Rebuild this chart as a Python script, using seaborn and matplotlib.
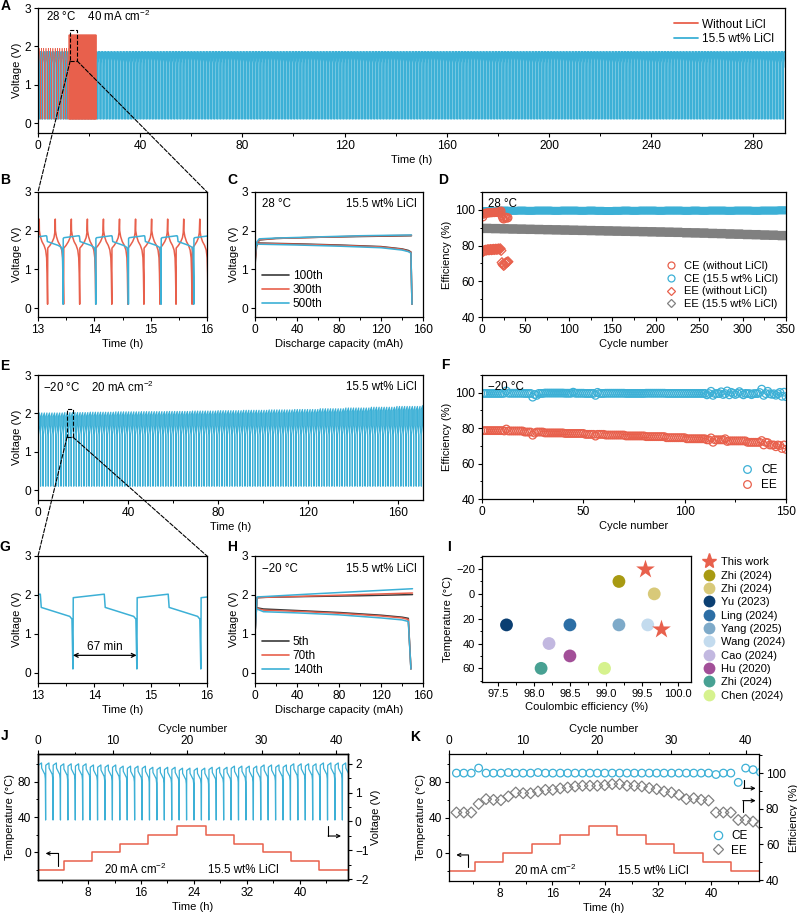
import numpy as np
import pandas as pd
import seaborn as sns
import matplotlib.pyplot as plt
from matplotlib.patches import Rectangle, ConnectionPatch
from matplotlib.lines import Line2D
from matplotlib.ticker import MultipleLocator

sns.set_theme(style="ticks")
plt.rcParams['font.family'] = ['Liberation Sans', 'DejaVu Sans']
plt.rcParams.update({
    'font.size': 8.3, 'axes.labelsize': 8, 'xtick.labelsize': 8.6, 'ytick.labelsize': 8.6,
    'legend.fontsize': 8, 'axes.linewidth': 0.9, 'axes.edgecolor': 'black',
    'xtick.color': 'black', 'ytick.color': 'black', 'axes.labelcolor': 'black',
    'text.color': 'black', 'xtick.major.size': 3, 'ytick.major.size': 3,
    'xtick.minor.size': 1.8, 'ytick.minor.size': 1.8, 'xtick.major.width': 0.8,
    'ytick.major.width': 0.8, 'xtick.minor.width': 0.7, 'ytick.minor.width': 0.7,
    'xtick.major.pad': 2, 'ytick.major.pad': 2, 'axes.labelpad': 2,
    'mathtext.fontset': 'custom', 'mathtext.rm': 'Liberation Sans',
    'mathtext.default': 'regular',
})

RED = '#e8604c'
BLUE = '#3cb0d6'
DARK = '#3a3a3a'
GRAY = '#808080'

###############################################################
# data
###############################################################
# A/B: 28 C, 40 mA cm-2 -- one cycle template (time fraction, voltage)
red_early_frac = [0, 0.01, 0.2, 0.4, 0.48, 0.5, 0.6, 0.9, 0.97, 1.0]
red_early_v = [0.1, 1.55, 1.68, 1.8, 1.95, 1.9, 1.8, 1.6, 1.5, 0.1]
red_early_period, red_early_n = 0.9, 14
red_late_frac = [0, 0.01, 0.15, 0.3, 0.4, 0.45, 0.48, 0.49, 0.55, 0.65, 0.78, 0.88, 0.94, 0.97, 1.0]
red_late_v = [0.1, 1.55, 1.62, 1.72, 1.82, 1.95, 2.3, 2.0, 1.85, 1.72, 1.62, 1.5, 1.3, 0.9, 0.1]
red_late_period, red_late_n, red_late_t0 = 0.285, 38, 12.03
blue28_frac = [0, 0.005, 0.03, 0.48, 0.5, 0.52, 0.65, 0.85, 0.95, 0.98, 0.995, 1.0]
blue28_v = [0.1, 1.8, 1.82, 1.87, 1.86, 1.72, 1.68, 1.62, 1.57, 1.45, 0.8, 0.1]
blue28_period, blue28_n, blue28_t0 = 0.58, 506, -0.475

# C: 28 C capacity curves
c_cap_chg = [0, 1.5, 4, 20, 60, 100, 149]
c_chg = {'100th': [1.1, 1.6, 1.76, 1.8, 1.83, 1.85, 1.87],
         '300th': [1.2, 1.65, 1.77, 1.8, 1.83, 1.86, 1.88],
         '500th': [1.3, 1.7, 1.79, 1.81, 1.84, 1.87, 1.89]}
c_cap_dis = [0, 5, 40, 80, 120, 140, 146, 148.5, 149.5]
c_dis = {'100th': [1.69, 1.68, 1.66, 1.63, 1.59, 1.53, 1.49, 1.45, 0.1],
         '300th': [1.68, 1.67, 1.65, 1.62, 1.58, 1.52, 1.47, 1.44, 0.1],
         '500th': [1.66, 1.65, 1.63, 1.6, 1.56, 1.5, 1.46, 1.42, 0.1]}

# D: efficiencies at 28 C
d_red_cycle = list(range(1, 31))
d_red_ce = [96.0, 97.5, 98.0, 98.2, 98.0, 98.3, 98.5, 98.2, 98.4, 98.6, 98.3, 98.5, 98.7, 98.4, 98.6,
            98.8, 98.5, 98.7, 98.9, 98.6, 99.0, 99.4, 96.5, 95.2, 94.8, 95.5, 96.0, 95.8, 95.3, 95.6]
d_red_ee = [76.5, 77.0, 77.3, 77.5, 77.4, 77.6, 77.8, 77.5, 77.7, 77.9, 77.6, 77.8, 78.0, 77.7, 77.9,
            78.1, 77.8, 78.0, 78.2, 77.9, 78.3, 77.2, 70.5, 69.5, 68.8, 69.3, 70.2, 70.5, 70.8, 71.0]
d_blue_ce_per10 = [99.3, 99.5, 99.6, 99.5, 99.6, 99.5, 99.6, 99.6, 99.5, 99.6, 99.6, 99.5, 99.6, 99.5,
                   99.4, 99.5, 99.6, 99.5, 99.6, 99.6, 99.5, 99.6, 99.6, 99.5, 99.6, 99.5, 99.6, 99.6,
                   99.5, 99.6, 99.6, 99.5, 99.6, 99.6, 99.7]
d_gray_ee_per10 = [89.6, 89.5, 89.4, 89.3, 89.2, 89.1, 89.0, 88.9, 88.8, 88.7, 88.6, 88.5, 88.4, 88.3,
                   88.2, 88.1, 88.0, 87.9, 87.8, 87.7, 87.6, 87.5, 87.4, 87.2, 87.1, 87.0, 86.8, 86.7,
                   86.5, 86.4, 86.2, 86.1, 85.9, 85.8, 85.6]

# E/G: -20 C, 20 mA cm-2
e_frac = [0, 0.005, 0.49, 0.505, 0.95, 0.985, 1.0]
e_v = [0.1, 1.93, 2.02, 1.68, 1.45, 1.38, 0.1]
e_period, e_n = 1.135, 151
e_top_per10 = [2.01, 2.02, 2.03, 2.04, 2.045, 2.05, 2.06, 2.07, 2.08, 2.09, 2.10, 2.12, 2.14, 2.16, 2.18, 2.20]

# F: efficiencies at -20 C
f_ce_per10 = [99.6, 99.7, 99.6, 99.8, 99.7, 99.6, 99.7, 99.6, 99.7, 99.6, 99.6, 99.5, 99.6, 99.5, 99.4]
f_ce_out = {12: 101.0, 25: 97.5, 26: 99.0, 27: 98.5, 45: 100.3, 56: 98.5, 57: 100.2, 111: 98.8,
            113: 100.8, 114: 98.5, 118: 100.5, 119: 99.0, 121: 101.0, 122: 98.8, 123: 100.2, 125: 99.0,
            127: 100.6, 129: 98.8, 133: 98.9, 137: 100.1, 138: 102.0, 139: 98.5, 141: 100.8,
            143: 99.1, 145: 98.6, 147: 100.2, 148: 98.0, 149: 100.3, 150: 97.8}
f_ee_per10 = [78.6, 78.4, 77.8, 77.3, 77.0, 76.5, 76.1, 75.6, 75.2, 74.6, 74.0, 73.4, 72.8, 72.0, 70.5]
f_ee_out = {12: 79.5, 25: 76.0, 26: 77.2, 56: 75.5, 113: 74.5, 114: 72.0, 120: 74.0, 121: 72.5,
            138: 73.0, 139: 70.5, 141: 71.8, 145: 69.5, 147: 70.2, 148: 68.5, 150: 68.0}

# H: -20 C capacity curves
h_cap_chg = [0, 2, 10, 50, 100, 150]
h_chg = {'5th': [1.0, 1.93, 1.94, 1.96, 1.98, 2.01],
         '70th': [1.0, 1.93, 1.94, 1.97, 2.01, 2.05],
         '140th': [1.0, 1.95, 1.96, 2.02, 2.09, 2.16]}
h_cap_dis = [0, 8, 40, 80, 120, 140, 146, 148.5]
h_dis = {'5th': [1.68, 1.64, 1.6, 1.55, 1.48, 1.43, 1.4, 0.1],
         '70th': [1.67, 1.61, 1.58, 1.53, 1.46, 1.41, 1.37, 0.1],
         '140th': [1.66, 1.57, 1.54, 1.49, 1.41, 1.36, 1.32, 0.1]}

# I: literature comparison
lit_labels = ['Zhi (2024)', 'Zhi (2024)', 'Yu (2023)', 'Ling (2024)', 'Yang (2025)', 'Wang (2024)',
              'Cao (2024)', 'Hu (2020)', 'Zhi (2024)', 'Chen (2024)']
lit_ce = [99.18, 99.67, 97.62, 98.5, 99.18, 99.58, 98.21, 98.5, 98.1, 98.98]
lit_temp = [-10, 0, 25, 25, 25, 25, 40, 50, 60, 60]
lit_colors = ['#a89a12', '#d8c979', '#0b3f72', '#2c6ea5', '#7eaac9', '#c3dbee', '#c2b8e0',
              '#a24f98', '#48a193', '#d6f28e']
this_ce = [99.54, 99.76]
this_temp = [-20, 28]

# J/K: temperature program and cycling
temp_t = [0.4, 4.33, 8.57, 12.9, 17.1, 21.5, 25.8, 30.1, 34.4, 38.7, 42.9, 47.3]
temp_v = [-20, -10, 0, 10, 20, 30, 20, 10, 0, -10, -20, -20]
j_frac = [0, 0.02, 0.45, 0.47, 0.9, 0.96, 1.0]
j_v = [0.05, 1.92, 2.0, 1.82, 1.6, 1.45, 0.05]
j_period, j_n, j_t0 = 1.12, 42, 0.48
j_lift = {-20: 0.03, -10: 0.0, 0: -0.04, 10: -0.08, 20: -0.12, 30: -0.15}
k_cycle = list(range(1, 43))
k_ce = [100, 100, 100, 102.8, 100, 100, 100, 100.3, 100, 100, 100, 100.3, 100, 100, 100, 100, 100, 100,
        100, 100, 100, 100, 100, 100, 100, 100, 100, 100, 100, 100, 100, 100, 100, 100, 100, 99.2,
        100, 100, 94.8, 102.8, 101.9, 100.5]
k_ee = [77.9, 77.9, 77.9, 82.7, 85.4, 85.0, 84.8, 86.9, 89.1, 88.7, 88.7, 89.7, 90.6, 90.6, 91.4,
        91.9, 92.5, 92.9, 92.9, 92.9, 93.2, 93.8, 93.8, 92.9, 92.9, 92.5, 91.6, 91.0, 89.7, 89.1,
        87.8, 85.4, 85.9, 85.0, 84.6, 77.9, 77.9, 77.9, 73.7, 73.7, 72.8, 71.3]


def build_cycles(t_first, period, n, frac, volt, lift=None, lift_idx=()):
    frac = np.asarray(frac, float)
    ts, vs = [], []
    for k in range(n):
        v = np.asarray(volt, float).copy()
        if lift is not None:
            v[list(lift_idx)] += lift[k]
        ts.append(t_first + (k + frac) * period)
        vs.append(v)
    return np.concatenate(ts), np.concatenate(vs)


def style(ax, xmaj=None, xmin=None, ymaj=None, ymin=None):
    if xmaj: ax.xaxis.set_major_locator(MultipleLocator(xmaj))
    if xmin: ax.xaxis.set_minor_locator(MultipleLocator(xmin))
    if ymaj: ax.yaxis.set_major_locator(MultipleLocator(ymaj))
    if ymin: ax.yaxis.set_minor_locator(MultipleLocator(ymin))
    ax.tick_params(which='both', direction='out', top=False, right=False)
    for s in ax.spines.values():
        s.set_visible(True)
        s.set_linewidth(0.9)


W, H = 797, 914


def box(l, t, r, b):
    return [l / W, 1 - b / H, (r - l) / W, (b - t) / H]


fig = plt.figure(figsize=(7.97, 9.14), dpi=100)

###############################################################
# A
###############################################################
axA = fig.add_axes(box(38, 8, 785, 133))
tb, vb = build_cycles(blue28_t0, blue28_period, blue28_n, blue28_frac, blue28_v)
t1, v1 = build_cycles(0, red_early_period, red_early_n, red_early_frac, red_early_v)
t2, v2 = build_cycles(red_late_t0, red_late_period, red_late_n, red_late_frac, red_late_v)
sns.lineplot(x=tb, y=vb, ax=axA, sort=False, estimator=None, color=BLUE, lw=0.6)
sns.lineplot(x=t1, y=v1, ax=axA, sort=False, estimator=None, color=RED, lw=0.45)
sns.lineplot(x=t2, y=v2, ax=axA, sort=False, estimator=None, color=RED, lw=0.6)
axA.set_xlim(0, 292.4)
axA.set_ylim(-0.26, 3)
axA.set_xlabel('Time (h)')
axA.set_ylabel('Voltage (V)')
style(axA, 40, 20, 1, None)
axA.text(0.011, 0.93, '28 °C    40 mA cm$^{-2}$', transform=axA.transAxes, va='center')
axA.legend(handles=[Line2D([], [], color=RED, lw=1.3), Line2D([], [], color=BLUE, lw=1.3)],
           labels=['Without LiCl', '15.5 wt% LiCl'], loc='upper right', frameon=False,
           fontsize=8.5, handlelength=2.0, handletextpad=0.4, labelspacing=0.2, borderaxespad=0.5)
axA.add_patch(Rectangle((12.6, 1.62), 2.7, 0.8, fill=False, ls='--', lw=0.8, ec='black', zorder=5))

###############################################################
# B
###############################################################
axB = fig.add_axes(box(38, 192, 207, 317))
tr, vr = np.concatenate([t1, t2]), np.concatenate([v1, v2])
mb = (tb > 12.5) & (tb < 16.5)
mr = (t2 > 12.5) & (t2 < 16.5)
sns.lineplot(x=t2[mr], y=v2[mr], ax=axB, sort=False, estimator=None, color=RED, lw=1.1)
sns.lineplot(x=tb[mb], y=vb[mb], ax=axB, sort=False, estimator=None, color=BLUE, lw=1.1)
axB.set_xlim(13, 16)
axB.set_ylim(-0.23, 3)
axB.set_xlabel('Time (h)')
axB.set_ylabel('Voltage (V)')
style(axB, 1, 0.5, 1, None)

###############################################################
# C
###############################################################
axC = fig.add_axes(box(255, 192, 423, 317))
for lab, col in zip(['100th', '300th', '500th'], [DARK, RED, BLUE]):
    sns.lineplot(x=c_cap_chg, y=c_chg[lab], ax=axC, sort=False, estimator=None, color=col, lw=1.1)
    sns.lineplot(x=c_cap_dis, y=c_dis[lab], ax=axC, sort=False, estimator=None, color=col, lw=1.1)
axC.set_xlim(0, 160)
axC.set_ylim(-0.23, 3)
axC.set_xlabel('Discharge capacity (mAh)')
axC.set_ylabel('Voltage (V)')
style(axC, 40, 20, 1, None)
axC.text(0.04, 0.9, '28 °C', transform=axC.transAxes, va='center')
axC.text(0.96, 0.9, '15.5 wt% LiCl', transform=axC.transAxes, va='center', ha='right')
axC.legend(handles=[Line2D([], [], color=c, lw=1.2) for c in [DARK, RED, BLUE]],
           labels=['100th', '300th', '500th'], loc='lower left', frameon=False, fontsize=8.5,
           handlelength=2.3, handletextpad=0.3, labelspacing=0.15, borderaxespad=0.2)

###############################################################
# D
###############################################################
axD = fig.add_axes(box(482, 192, 786, 317))
d_cyc = np.arange(1, 351)
d_blue_ce = np.repeat(d_blue_ce_per10, 10)
d_gray_ee = np.repeat(d_gray_ee_per10, 10)
mk = dict(facecolors='none', linewidth=0.9, legend=False, ax=axD)
sns.scatterplot(x=d_cyc, y=d_gray_ee, marker='D', s=18, edgecolor=GRAY, **mk)
sns.scatterplot(x=d_cyc, y=d_blue_ce, marker='o', s=22, edgecolor=BLUE, **mk)
sns.scatterplot(x=d_red_cycle, y=d_red_ee, marker='D', s=24, edgecolor=RED, **mk)
sns.scatterplot(x=d_red_cycle, y=d_red_ce, marker='o', s=30, edgecolor=RED, **mk)
axD.set_xlim(0, 350)
axD.set_ylim(40, 110)
axD.set_xlabel('Cycle number')
axD.set_ylabel('Efficiency (%)')
style(axD, 50, 25, 20, 10)
axD.text(0.02, 0.9, '28 °C', transform=axD.transAxes, va='center')
axD.legend(handles=[Line2D([], [], ls='', marker=m, mfc='none', mec=c, mew=0.9, ms=ms)
                    for m, c, ms in [('o', RED, 5), ('o', BLUE, 5), ('D', RED, 4.3), ('D', GRAY, 4.3)]],
           labels=['CE (without LiCl)', 'CE (15.5 wt% LiCl)', 'EE (without LiCl)', 'EE (15.5 wt% LiCl)'],
           loc='lower right', frameon=False, handlelength=1.2, handletextpad=0.6, labelspacing=0.25,
           borderaxespad=0.3)

###############################################################
# E
###############################################################
axE = fig.add_axes(box(38, 375, 423, 500))
e_lift = [e_top_per10[k // 10] - 2.02 for k in range(e_n)]
te, ve = build_cycles(0.0, e_period, e_n, e_frac, e_v, e_lift, (1, 2))
sns.lineplot(x=te, y=ve, ax=axE, sort=False, estimator=None, color=BLUE, lw=0.85)
axE.set_xlim(0, 171)
axE.set_ylim(-0.26, 3)
axE.set_xlabel('Time (h)')
axE.set_ylabel('Voltage (V)')
style(axE, 40, 20, 1, None)
axE.text(0.013, 0.9, '−20 °C    20 mA cm$^{-2}$', transform=axE.transAxes, va='center')
axE.text(0.985, 0.9, '15.5 wt% LiCl', transform=axE.transAxes, va='center', ha='right')
axE.add_patch(Rectangle((12.9, 1.38), 2.6, 0.74, fill=False, ls='--', lw=0.8, ec='black', zorder=5))

###############################################################
# F
###############################################################
axF = fig.add_axes(box(482, 375, 786, 499))
f_cyc = np.arange(1, 151)
f_ce = np.repeat(f_ce_per10, 10).astype(float)
f_ee = np.repeat(f_ee_per10, 10).astype(float)
for c, v in f_ce_out.items():
    f_ce[c - 1] = v
for c, v in f_ee_out.items():
    f_ee[c - 1] = v
mk['ax'] = axF
sns.scatterplot(x=f_cyc, y=f_ee, marker='o', s=30, edgecolor=RED, **mk)
sns.scatterplot(x=f_cyc, y=f_ce, marker='o', s=30, edgecolor=BLUE, **mk)
axF.set_xlim(0, 150)
axF.set_ylim(40, 110)
axF.set_xlabel('Cycle number')
axF.set_ylabel('Efficiency (%)')
style(axF, 50, 25, 20, 10)
axF.text(0.02, 0.9, '−20 °C', transform=axF.transAxes, va='center')
axF.legend(handles=[Line2D([], [], ls='', marker='o', mfc='none', mec=c, mew=0.9, ms=5.5)
                    for c in [BLUE, RED]],
           labels=['CE', 'EE'], loc='lower right', frameon=False, fontsize=8.5, handlelength=1.2,
           handletextpad=0.6, labelspacing=0.2, borderaxespad=0.3)

###############################################################
# G
###############################################################
axG = fig.add_axes(box(38, 556, 207, 683))
mg = (te > 12.0) & (te < 17.0)
sns.lineplot(x=te[mg], y=ve[mg], ax=axG, sort=False, estimator=None, color=BLUE, lw=1.1)
axG.set_xlim(13, 16)
axG.set_ylim(-0.26, 3)
axG.set_xlabel('Time (h)')
axG.set_ylabel('Voltage (V)')
style(axG, 1, 0.5, 1, None)
axG.annotate('', xy=(13.62, 0.45), xytext=(14.75, 0.45),
             arrowprops=dict(arrowstyle='<->', lw=0.9, color='black', shrinkA=0, shrinkB=0,
                             mutation_scale=7))
axG.text(14.19, 0.52, '67 min', ha='center', va='bottom', fontsize=8.5)

###############################################################
# H
###############################################################
axH = fig.add_axes(box(255, 556, 423, 683))
for lab, col in zip(['5th', '70th', '140th'], [DARK, RED, BLUE]):
    sns.lineplot(x=h_cap_chg, y=h_chg[lab], ax=axH, sort=False, estimator=None, color=col, lw=1.1)
    sns.lineplot(x=h_cap_dis, y=h_dis[lab], ax=axH, sort=False, estimator=None, color=col, lw=1.1)
axH.set_xlim(0, 160)
axH.set_ylim(-0.26, 3)
axH.set_xlabel('Discharge capacity (mAh)')
axH.set_ylabel('Voltage (V)')
style(axH, 40, 20, 1, None)
axH.text(0.04, 0.9, '−20 °C', transform=axH.transAxes, va='center')
axH.text(0.96, 0.9, '15.5 wt% LiCl', transform=axH.transAxes, va='center', ha='right')
axH.legend(handles=[Line2D([], [], color=c, lw=1.2) for c in [DARK, RED, BLUE]],
           labels=['5th', '70th', '140th'], loc='lower left', frameon=False, fontsize=8.5,
           handlelength=2.3, handletextpad=0.3, labelspacing=0.15, borderaxespad=0.2)

###############################################################
# I
###############################################################
axI = fig.add_axes(box(482, 556, 691, 682))
lit = pd.DataFrame({'ce': lit_ce, 'temp': lit_temp, 'key': range(len(lit_ce))})
sns.scatterplot(data=lit, x='ce', y='temp', hue='key', palette=lit_colors, s=85, linewidth=0,
                legend=False, ax=axI)
sns.scatterplot(x=this_ce, y=this_temp, marker='*', s=200, color=RED, linewidth=0, legend=False, ax=axI)
axI.set_xlim(97.28, 100.18)
axI.set_ylim(71, -30.5)
axI.set_xlabel('Coulombic efficiency (%)')
axI.set_ylabel('Temperature (°C)')
style(axI, 0.5, 0.25, 20, 10)
axI.tick_params(labelsize=8)
axI.xaxis.set_major_formatter(plt.FormatStrFormatter('%.1f'))
hI = [Line2D([], [], ls='', marker='*', color=RED, ms=11)]
hI += [Line2D([], [], ls='', marker='o', color=c, mec='none', ms=8.5) for c in lit_colors]
axI.legend(handles=hI, labels=['This work'] + lit_labels, loc='upper left',
           bbox_to_anchor=(1.06, 0.99), frameon=False, handlelength=1.0, handletextpad=0.6,
           labelspacing=0.3, borderaxespad=0, borderpad=0)

###############################################################
# J
###############################################################
posJ = box(38, 754, 348, 880)
axJ = fig.add_axes(posJ)
axJ.step(temp_t, temp_v, where='post', color=RED, lw=1.1)
axJ.set_xlim(0.45, 47.25)
axJ.set_ylim(-31.2, 111.2)
axJ.set_xlabel('Time (h)')
axJ.set_ylabel('Temperature (°C)')
style(axJ, 8, 4, 40, 20)
axJ.set_xticks([8, 16, 24, 32, 40])

j_temp_of_cycle = []
for k in range(j_n):
    tc = j_t0 + (k + 0.5) * j_period
    idx = np.searchsorted(temp_t, tc, side='right') - 1
    j_temp_of_cycle.append(j_lift[temp_v[min(idx, len(temp_v) - 1)]])
tj, vj = build_cycles(j_t0, j_period, j_n, j_frac, j_v, j_temp_of_cycle, (1, 2, 3, 4, 5))
axJv = axJ.twinx()
sns.lineplot(x=tj, y=vj, ax=axJv, sort=False, estimator=None, color=BLUE, lw=0.9)
axJv.set_ylim(-2.03, 2.34)
axJv.set_ylabel('Voltage (V)')
axJv.yaxis.set_major_locator(MultipleLocator(1))
axJv.yaxis.set_minor_locator(MultipleLocator(0.5))
axJv.tick_params(which='both', direction='out', right=True, left=False, labelright=True, labelleft=False)
axJc = axJ.twiny()
axJc.set_xlim(0, 41.6)
axJc.set_xlabel('Cycle number')
axJc.xaxis.set_major_locator(MultipleLocator(10))
axJc.xaxis.set_minor_locator(MultipleLocator(5))
axJc.tick_params(which='both', direction='out', top=True, bottom=False, labeltop=True, labelbottom=False)
axJ.text(15.1, -19.5, '20 mA cm$^{-2}$', ha='center', va='center')
axJ.text(31.5, -19.5, '15.5 wt% LiCl', ha='center', va='center')
axJ.plot([3.5, 3.5], [-15, -1.2], color='black', lw=0.8)
axJ.annotate('', xy=(1.6, -1.2), xytext=(3.55, -1.2),
             arrowprops=dict(arrowstyle='->', lw=0.8, color='black', shrinkA=0, shrinkB=0, mutation_scale=6))
axJ.plot([44.3, 44.3], [29.7, 18.5], color='black', lw=0.8)
axJ.annotate('', xy=(46.2, 18.5), xytext=(44.25, 18.5),
             arrowprops=dict(arrowstyle='->', lw=0.8, color='black', shrinkA=0, shrinkB=0, mutation_scale=6))

###############################################################
# K
###############################################################
posK = box(449, 754, 759, 881)
axK = fig.add_axes(posK)
axK.step(temp_t, temp_v, where='post', color=RED, lw=1.1)
axK.set_xlim(0.4, 47.2)
axK.set_ylim(-31.2, 111.2)
axK.set_xlabel('Time (h)')
axK.set_ylabel('Temperature (°C)')
style(axK, 8, 4, 40, 20)
axK.set_xticks([8, 16, 24, 32, 40])
axKe = fig.add_axes(posK, frameon=False)
sns.scatterplot(x=k_cycle, y=k_ee, marker='D', s=30, facecolors='none', edgecolor=GRAY,
                linewidth=0.9, legend=False, ax=axKe)
sns.scatterplot(x=k_cycle, y=k_ce, marker='o', s=30, facecolors='none', edgecolor=BLUE,
                linewidth=0.9, legend=False, ax=axKe)
axKe.set_xlim(0, 41.8)
axKe.set_ylim(39.5, 110.7)
axKe.xaxis.tick_top()
axKe.xaxis.set_label_position('top')
axKe.yaxis.tick_right()
axKe.yaxis.set_label_position('right')
axKe.set_xlabel('Cycle number')
axKe.set_ylabel('Efficiency (%)')
axKe.xaxis.set_major_locator(MultipleLocator(10))
axKe.xaxis.set_minor_locator(MultipleLocator(5))
axKe.yaxis.set_major_locator(MultipleLocator(20))
axKe.yaxis.set_minor_locator(MultipleLocator(10))
axKe.tick_params(which='both', direction='out')
axKe.legend(handles=[Line2D([], [], ls='', marker='o', mfc='none', mec=BLUE, mew=0.9, ms=6),
                     Line2D([], [], ls='', marker='D', mfc='none', mec=GRAY, mew=0.9, ms=5.5)],
            labels=['CE', 'EE'], loc='upper left', bbox_to_anchor=(0.85, 0.4), frameon=False,
            fontsize=8.5, handlelength=1.0, handletextpad=0.6, labelspacing=0.2, borderaxespad=0,
            borderpad=0)
axK.text(14.9, -19.5, '20 mA cm$^{-2}$', ha='center', va='center')
axK.text(31.3, -19.5, '15.5 wt% LiCl', ha='center', va='center')
axK.plot([3.3, 3.3], [-15, -2], color='black', lw=0.8)
axK.annotate('', xy=(1.5, -2), xytext=(3.35, -2),
             arrowprops=dict(arrowstyle='->', lw=0.8, color='black', shrinkA=0, shrinkB=0, mutation_scale=6))
axK.plot([44.9, 44.9], [82, 72.7], color='black', lw=0.8)
axK.annotate('', xy=(46.7, 72.7), xytext=(44.85, 72.7),
             arrowprops=dict(arrowstyle='->', lw=0.8, color='black', shrinkA=0, shrinkB=0, mutation_scale=6))
axK.plot([44.8, 44.8], [46.5, 58.9], color='black', lw=0.8)
axK.annotate('', xy=(46.7, 58.9), xytext=(44.75, 58.9),
             arrowprops=dict(arrowstyle='->', lw=0.8, color='black', shrinkA=0, shrinkB=0, mutation_scale=6))

###############################################################
# zoom connectors and panel letters
###############################################################
for axs, axt, x0, x1, y0 in [(axA, axB, 12.6, 15.3, 1.62), (axE, axG, 12.9, 15.5, 1.38)]:
    for xs, xt in [(x0, 0), (x1, 1)]:
        con = ConnectionPatch(xyA=(xs, y0), coordsA=axs.transData, xyB=(xt, 1), coordsB=axt.transAxes,
                              ls='--', lw=0.8, color='black')
        fig.add_artist(con)

for lab, x, y in [('A', 6, 6), ('B', 5, 180), ('C', 232, 180), ('D', 443, 180), ('E', 5, 366),
                  ('F', 445, 365), ('G', 5, 547), ('H', 232, 547), ('I', 449, 547), ('J', 5, 736),
                  ('K', 415, 737)]:
    fig.text(x / W, 1 - y / H, lab, fontsize=10, fontweight='bold', ha='center', va='center')

fig.savefig('out.png', dpi=100)
